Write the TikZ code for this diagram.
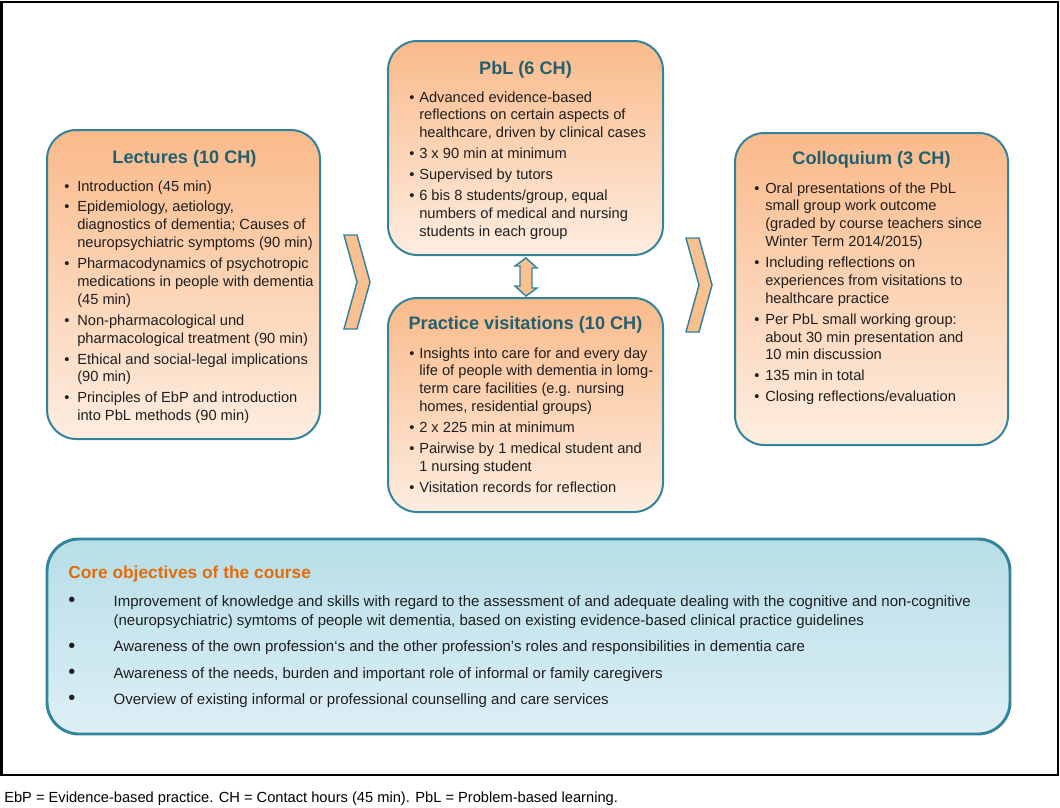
\documentclass[tikz,border=0pt]{standalone}
\usepackage{fontspec}
\setmainfont{Liberation Sans}
\usetikzlibrary{calc}
\definecolor{tealb}{RGB}{49,132,155}
\definecolor{ttlc}{RGB}{34,96,112}
\definecolor{otop}{RGB}{250,186,138}
\definecolor{obot}{RGB}{253,237,224}
\definecolor{btop}{RGB}{183,222,232}
\definecolor{bbot}{RGB}{221,239,245}
\definecolor{corg}{RGB}{227,108,10}
\definecolor{chevf}{RGB}{250,192,144}
\newcommand\itm[2][8.25pt]{\par\hangindent=#1\hangafter=1\noindent\makebox[#1][l]{\textbullet}#2}
\newcommand\citm[1]{\par\hangindent=34pt\hangafter=1\noindent\makebox[34pt][l]{\raisebox{-0.3pt}{\fontsize{15}{15}\selectfont\textbullet}}#1}
\newcommand\blk[3]{\parbox[t]{#1}{\fontsize{11}{13.4}\selectfont\setlength\parskip{#2}\raggedright #3}}
\tikzset{
  obox/.style={draw=tealb, line width=1.5pt, rounded corners=22pt, top color=otop, bottom color=obot, inner sep=0pt},
  bbox/.style={draw=tealb, line width=2.2pt, rounded corners=24pt, top color=btop, bottom color=bbot, inner sep=0pt},
  ttl/.style={anchor=base, inner sep=0pt, text=ttlc, font=\bfseries\fontsize{13.6}{16}\selectfont},
  body/.style={anchor=base west, inner sep=0pt, text=black!88},
  chev/.style={fill=chevf, draw=tealb, line width=1.1pt, line join=miter},
}
\begin{document}
\begin{tikzpicture}[x=0.75pt,y=-0.75pt]
\useasboundingbox (0,0) rectangle (1060,807);
\draw[line width=1.5pt] (1.5,1.5) rectangle (1057.5,775);

% boxes
\node[obox, minimum width=204.75pt, minimum height=231.75pt] (lec) at (183.5,284.5) {};
\node[obox, minimum width=206.25pt, minimum height=160.5pt] (pbl) at (525.5,148) {};
\node[obox, minimum width=206.25pt, minimum height=160.5pt] (prac) at (525.5,405) {};
\node[obox, minimum width=204.75pt, minimum height=234pt] (coll) at (871.5,289) {};
\node[bbox, minimum width=722.25pt, minimum height=146.25pt] (core) at (528.5,636.5) {};

% titles
\node[ttl] (lect) at (184.5,163.5) {Lectures (10 CH)};
\node[ttl] (pblt) at (525.5,74.5) {PbL (6 CH)};
\node[ttl] (pract) at (525.5,329.5) {Practice visitations (10 CH)};
\node[ttl] (collt) at (871.5,164.5) {Colloquium (3 CH)};

% lists
\node[body] (lecl) at (64,191) {\blk{200pt}{2.3pt}{%
\itm[9.75pt]{Introduction (45 min)}
\itm[9.75pt]{Epidemiology, aetiology,\newline diagnostics of dementia; Causes of\newline neuropsychiatric symptoms (90 min)}
\itm[9.75pt]{Pharmacodynamics of psychotropic\newline medications in people with dementia\newline (45 min)}
\itm[9.75pt]{Non-pharmacological und\newline pharmacological treatment (90 min)}
\itm[9.75pt]{Ethical and social-legal implications\newline (90 min)}
\itm[9.75pt]{Principles of EbP and introduction\newline into PbL methods (90 min)}}};

\node[body] (pbll) at (409,102) {\blk{200pt}{2.4pt}{%
\itm[7.5pt]{Advanced evidence-based\newline reflections on certain aspects of\newline healthcare, driven by clinical cases}
\itm[7.5pt]{3 x 90 min at minimum}
\itm[7.5pt]{Supervised by tutors}
\itm[7.5pt]{6 bis 8 students/group, equal\newline numbers of medical and nursing\newline students in each group}}};

\node[body] (pracl) at (409,358) {\blk{200pt}{2.4pt}{%
\itm[7.5pt]{Insights into care for and every day\newline life of people with dementia in lomg-\newline term care facilities (e.g. nursing\newline homes, residential groups)}
\itm[7.5pt]{2 x 225 min at minimum}
\itm[7.5pt]{Pairwise by 1 medical student and\newline 1 nursing student}
\itm[7.5pt]{Visitation records for reflection}}};

\node[body] (colll) at (754,193) {\blk{200pt}{2.3pt}{%
\itm[8.25pt]{Oral presentations of the PbL\newline small group work outcome\newline (graded by course teachers since\newline Winter Term 2014/2015)}
\itm[8.25pt]{Including reflections on\newline experiences from visitations to\newline healthcare practice}
\itm[8.25pt]{Per PbL small working group:\newline about 30 min presentation and\newline 10 min discussion}
\itm[8.25pt]{135 min in total}
\itm[8.25pt]{Closing reflections/evaluation}}};

% core objectives
\node[anchor=base west, inner sep=0pt, text=corg, font=\bfseries\fontsize{13}{15}\selectfont] (coret) at (68,578) {Core objectives of the course};
\node[body] (corel) at (68,606) {\parbox[t]{710pt}{\fontsize{11.25}{14.5}\selectfont\setlength\parskip{5.3pt}\raggedright
\citm{Improvement of knowledge and skills with regard to the assessment of and adequate dealing with the cognitive and non-cognitive\newline (neuropsychiatric) symtoms of people wit dementia, based on existing evidence-based clinical practice guidelines}
\citm{Awareness of the own profession‘s and the other profession’s roles and responsibilities in dementia care}
\citm{Awareness of the needs, burden and important role of informal or family caregivers}
\citm{Overview of existing informal or professional counselling and care services}}};

% chevrons
\draw[chev] (344,235) -- (357,235) -- (370,282) -- (357,329) -- (344,329) -- (357,282) -- cycle;
\draw[chev] (686,238) -- (699,238) -- (712,285) -- (699,332) -- (686,332) -- (699,285) -- cycle;

% double arrow between PbL and practice
\draw[chev] ($(pbl.south)+(0.5,2)$) -- ++(11,10) -- ++(-5,0) -- ++(0,20) -- ++(5,0) -- ($(prac.north)+(0.5,-1)$) -- ++(-11,-10) -- ++(5,0) -- ++(0,-20) -- ++(-5,0) -- cycle;

% footer
\node[anchor=base west, inner sep=0pt, font=\fontsize{11}{13}\selectfont] (foot) at (4,802) {EbP = Evidence-based practice. CH = Contact hours (45 min). PbL = Problem-based learning.};
\end{tikzpicture}
\end{document}
